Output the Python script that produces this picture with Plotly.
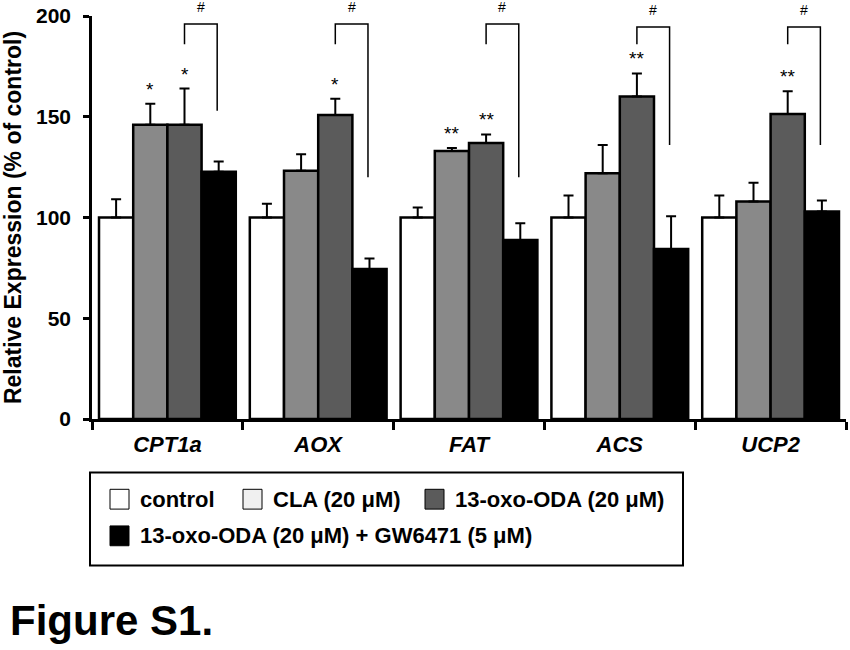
import plotly.graph_objects as go

genes = ["CPT1a", "AOX", "FAT", "ACS", "UCP2"]
series_names = ["control", "CLA (20 μM)", "13-oxo-ODA (20 μM)", "13-oxo-ODA (20 μM) + GW6471 (5 μM)"]

control = [100, 100, 100, 100, 100]
control_err = [9, 6.8, 5, 10.9, 10.9]
cla = [146, 123.2, 133, 121.9, 108]
cla_err = [10.4, 8.2, 1.5, 14.1, 9.3]
oxo = [146, 150.9, 137, 160, 151.4]
oxo_err = [18, 8, 4.2, 11.5, 11.3]
gw = [122.7, 74.4, 88.8, 84.4, 103]
gw_err = [5.1, 5.2, 8.3, 16.2, 5.4]

# significance marks: (gene index, series index, label)
stars = [(0, 1, "*"), (0, 2, "*"), (1, 2, "*"), (2, 1, "**"), (2, 2, "**"), (3, 2, "**"), (4, 2, "**")]
# brackets (13-oxo-ODA vs +GW6471): top, left leg end, right leg end
bracket_top = [196, 196, 196, 194.5, 194.5]
bracket_left_end = [186, 186, 186, 186, 186]
bracket_right_end = [153, 120, 120, 136, 136]

values = [control, cla, oxo, gw]
errors = [control_err, cla_err, oxo_err, gw_err]
colors = ["#ffffff", "#898989", "#5b5b5b", "#000000"]

FONT = "Arial, Liberation Sans, sans-serif"
BARGAP = 0.093

W, H = 850, 650
L, R, T, B = 92, 846, 12, 419  # plot area in page pixels

fig = go.Figure()
for name, v, e, c in zip(series_names, values, errors, colors):
    fig.add_trace(go.Bar(
        x=genes, y=v, name=name,
        marker=dict(color=c, line=dict(color="black", width=2.5)),
        error_y=dict(type="data", symmetric=False, array=e, arrayminus=[0] * len(e),
                     color="black", thickness=2, width=5),
        showlegend=False,
    ))

group_w = 1 - BARGAP
bar_w = group_w / 4


def bar_center(gi, si):
    return gi - group_w / 2 + bar_w * (si + 0.5)


annotations = []
shapes = []
for gi, si, lab in stars:
    annotations.append(dict(x=bar_center(gi, si), y=values[si][gi] + errors[si][gi],
                            xref="x", yref="y", text=lab, showarrow=False,
                            yanchor="bottom", yshift=2,
                            font=dict(family=FONT, size=19, color="black")))

for gi in range(len(genes)):
    xl = bar_center(gi, 2)
    xr = bar_center(gi, 3) - 0.01
    shapes.append(dict(type="path",
                       path=f"M {xl},{bracket_left_end[gi]} L {xl},{bracket_top[gi]} L {xr},{bracket_top[gi]} L {xr},{bracket_right_end[gi]}",
                       xref="x", yref="y", line=dict(color="black", width=1.5)))
    annotations.append(dict(x=(xl + xr) / 2, y=bracket_top[gi], xref="x", yref="y",
                            text="#", showarrow=False, yanchor="bottom", yshift=7,
                            font=dict(family=FONT, size=14, color="black")))


def px(xp):
    return (xp - L) / (R - L)


def py(yp):
    return (B - yp) / (B - T)


# custom legend box below the plot
shapes.append(dict(type="rect", xref="paper", yref="paper",
                   x0=px(90), x1=px(683), y0=py(473), y1=py(567),
                   line=dict(color="black", width=2), fillcolor="white"))
legend_items = [
    (110, 500, "#ffffff", series_names[0]),
    (243, 500, "#f0f0f0", series_names[1]),
    (425, 500, "#5b5b5b", series_names[2]),
    (110, 537, "#000000", series_names[3]),
]
for x0, yc, col, name in legend_items:
    shapes.append(dict(type="rect", xref="paper", yref="paper",
                       x0=px(x0), x1=px(x0 + 19), y0=py(yc + 10), y1=py(yc - 10),
                       line=dict(color="black", width=1), fillcolor=col))
    annotations.append(dict(x=px(x0 + 28), y=py(yc), xref="paper", yref="paper",
                            text=f"<b>{name}</b>", showarrow=False,
                            xanchor="left", yanchor="middle",
                            font=dict(family=FONT, size=22, color="black")))

annotations.append(dict(x=px(8), y=py(622), xref="paper", yref="paper",
                        text="<b>Figure S1.</b>", showarrow=False,
                        xanchor="left", yanchor="middle",
                        font=dict(family=FONT, size=42, color="black")))

fig.update_layout(
    width=W, height=H,
    margin=dict(l=L, r=W - R, t=T, b=H - B, pad=0),
    paper_bgcolor="white", plot_bgcolor="white",
    barmode="group", bargap=BARGAP, bargroupgap=0,
    shapes=shapes, annotations=annotations,
    font=dict(family=FONT, color="black"),
    showlegend=False,
)
fig.update_xaxes(
    showline=True, linecolor="black", linewidth=2.5,
    ticks="outside", tickson="boundaries", ticklen=8, tickwidth=2.5, tickcolor="black",
    tickvals=genes, ticktext=[f"<b><i>{g}</i></b>" for g in genes],
    tickfont=dict(family=FONT, size=22, color="black"), ticklabelstandoff=4,
    showgrid=False, zeroline=False,
)
fig.update_yaxes(
    range=[0, 200], tickvals=[0, 50, 100, 150, 200],
    ticktext=[f"<b>{v}</b>" for v in [0, 50, 100, 150, 200]],
    showline=True, linecolor="black", linewidth=2.5,
    ticks="outside", ticklen=6, tickwidth=2.5, tickcolor="black",
    tickfont=dict(family=FONT, size=21, color="black"), ticklabelstandoff=8,
    ticklabeloverflow="allow",
    showgrid=False, zeroline=False,
    title=dict(text="<b>Relative Expression (% of control)</b>",
               font=dict(family=FONT, size=23, color="black"), standoff=8),
)

# remove the browser's default 8px body margin so the figure fills the window
fig.write_html("out.html", config={"displayModeBar": False},
               post_script="document.body.style.margin='0px';")
